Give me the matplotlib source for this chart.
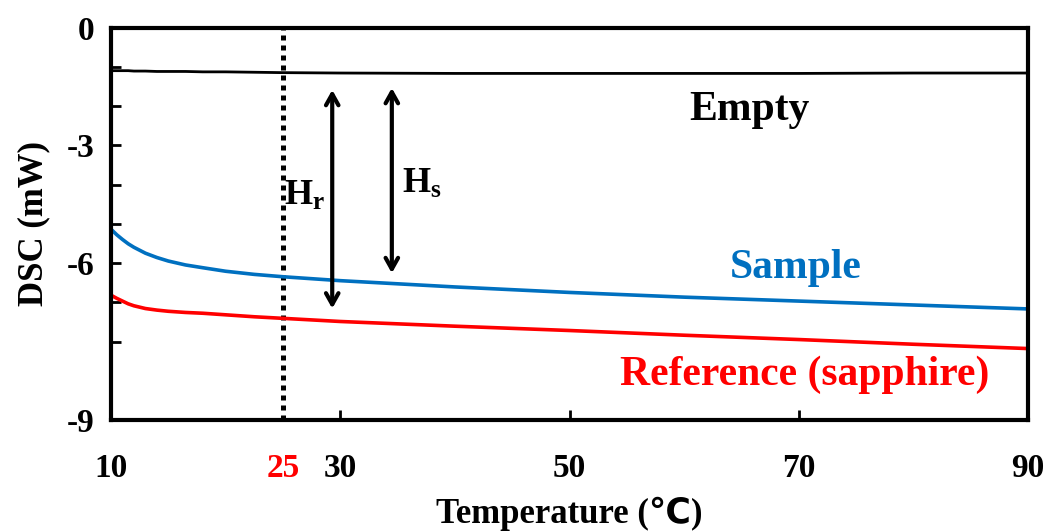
import matplotlib
matplotlib.use('Agg')
import matplotlib.pyplot as plt
from matplotlib.ticker import FixedLocator

plt.rcParams['font.family'] = ['Liberation Serif', 'DejaVu Sans']
plt.rcParams['font.weight'] = 'bold'
plt.rcParams['mathtext.fontset'] = 'custom'
plt.rcParams['mathtext.rm'] = 'Liberation Serif:bold'
plt.rcParams['mathtext.bf'] = 'Liberation Serif:bold'
plt.rcParams['mathtext.it'] = 'Liberation Serif:bold'

# ---- data ----
temp = [10, 10.5, 11, 11.5, 12, 13, 14, 15, 16.5, 18, 20, 22.5, 25,
        30, 40, 50, 60, 70, 80, 90]
empty = [-1.10, -1.10, -1.10, -1.10, -1.11, -1.11, -1.12, -1.12, -1.12, -1.13,
         -1.13, -1.14, -1.15, -1.16, -1.17, -1.17, -1.17, -1.17, -1.16, -1.16]
sample = [-5.14, -5.28, -5.40, -5.51, -5.60, -5.75, -5.86, -5.95, -6.05, -6.12,
          -6.21, -6.29, -6.35, -6.45, -6.61, -6.75, -6.87, -6.97, -7.07, -7.17]
reference = [-6.82, -6.90, -6.97, -7.04, -7.09, -7.16, -7.20, -7.23, -7.26, -7.28,
             -7.32, -7.37, -7.41, -7.49, -7.61, -7.72, -7.84, -7.95, -8.07, -8.18]

x_ticks = [10, 25, 30, 50, 70, 90]
x_tick_labels = ['10', '25', '30', '50', '70', '90']
y_ticks = [0, -3, -6, -10]
y_tick_labels = ['0', '-3', '-6', '-9']
y_minor = [-1, -2, -4, -5, -7, -8]
marker_temp = 25
hr_x, hr_top, hr_bottom = 29.3, -1.59, -7.16
hs_x, hs_top, hs_bottom = 34.5, -1.54, -6.26

BLUE = '#0070C0'
RED = '#FF0000'

fig = plt.figure(figsize=(10.45, 5.32), dpi=100)
ax = fig.add_axes([111/1045, 1-420/532, (1028-111)/1045, (420-27.5)/532])

ax.plot(temp, empty, color='black', lw=2)
ax.plot(temp, sample, color=BLUE, lw=2.6)
ax.plot(temp, reference, color=RED, lw=2.6)

ax.axvline(marker_temp, color='black', lw=3.6, linestyle=(0, (1, 1)), zorder=1)

for x, top, bot in [(hr_x, hr_top, hr_bottom), (hs_x, hs_top, hs_bottom)]:
    ax.annotate('', xy=(x, top), xytext=(x, bot),
                arrowprops=dict(arrowstyle='<->,head_length=0.8,head_width=0.45',
                                lw=3, color='black', shrinkA=0, shrinkB=0))

ax.text(26.9, -4.3, r'$\mathbf{H_r}$', fontsize=26, ha='center', va='center')
ax.text(37.1, -4.0, r'$\mathbf{H_s}$', fontsize=26, ha='center', va='center')

ax.text(65.7, -2.1, 'Empty', fontsize=30, fontweight='bold', color='black',
        ha='center', va='center')
ax.text(69.7, -6.13, 'Sample', fontsize=30, fontweight='bold', color=BLUE,
        ha='center', va='center')
ax.text(70.5, -8.86, 'Reference (sapphire)', fontsize=30, fontweight='bold',
        color=RED, ha='center', va='center')

ax.set_xlim(10, 90)
ax.set_ylim(-10, 0)
ax.set_xticks(x_ticks)
ax.set_xticklabels(x_tick_labels)
ax.set_yticks(y_ticks)
ax.set_yticklabels(y_tick_labels)
ax.yaxis.set_minor_locator(FixedLocator(y_minor))
ax.tick_params(axis='both', which='both', direction='in', width=2, length=7,
               labelsize=24)
ax.tick_params(axis='x', pad=24)
ax.tick_params(axis='y', pad=12)
for lbl in ax.get_xticklabels() + ax.get_yticklabels():
    lbl.set_fontweight('bold')
ax.get_xticklabels()[1].set_color(RED)
ax.xaxis.get_major_ticks()[1].tick1line.set_visible(False)

for sp in ax.spines.values():
    sp.set_linewidth(3)

ax.set_xlabel('Temperature (\u2103)', fontsize=25, fontweight='bold', labelpad=9)
ax.set_ylabel('DSC (mW)', fontsize=25, fontweight='bold', labelpad=12)

fig.savefig('out.png', dpi=100)
